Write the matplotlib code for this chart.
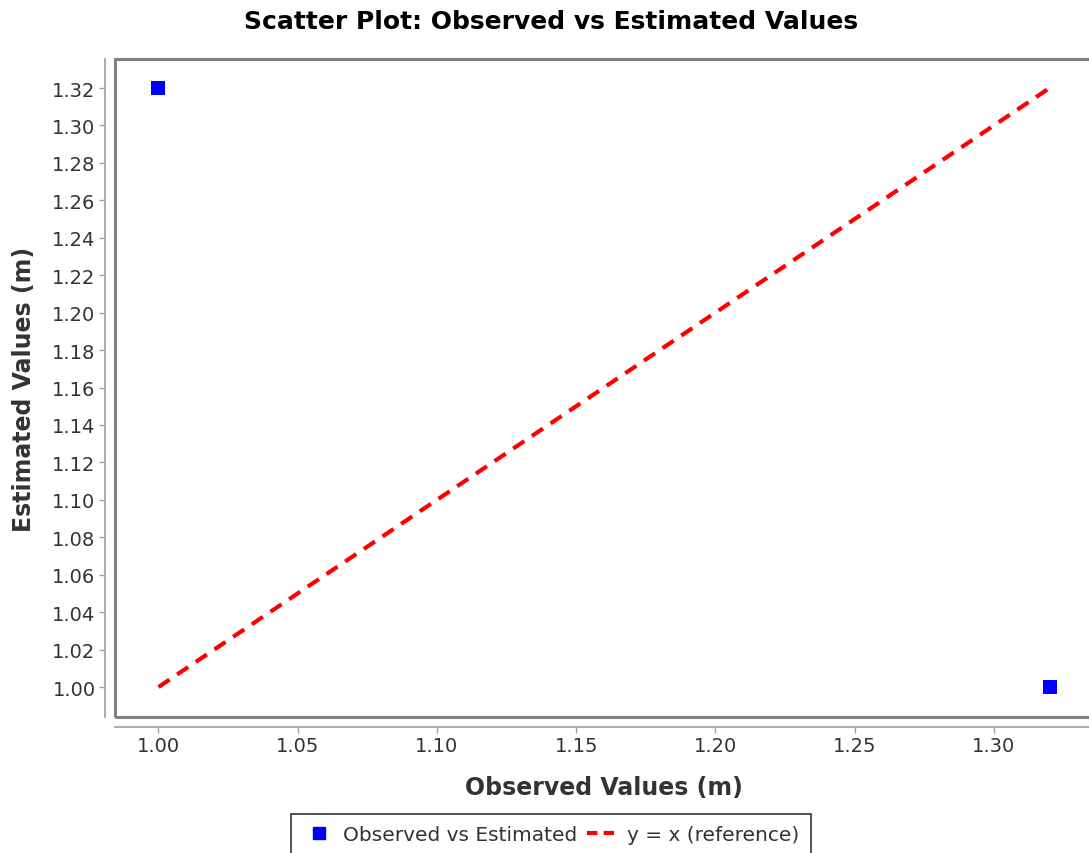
import matplotlib.pyplot as plt
from matplotlib.patches import Rectangle
from matplotlib.lines import Line2D

# data
observed = [1.00, 1.32]
estimated = [1.32, 1.00]
ref_x = [1.00, 1.32]
ref_y = [1.00, 1.32]
x_ticks = [1.00, 1.05, 1.10, 1.15, 1.20, 1.25, 1.30]
y_ticks = [1.00, 1.02, 1.04, 1.06, 1.08, 1.10, 1.12, 1.14, 1.16,
           1.18, 1.20, 1.22, 1.24, 1.26, 1.28, 1.30, 1.32]

plt.rcParams['font.family'] = ['DejaVu Sans']
W, H = 1089, 854
fig = plt.figure(figsize=(W / 100, H / 100), dpi=100)
ax = fig.add_axes([115 / W, 1 - 718 / H, 978 / W, 658 / H])

ax.plot(ref_x, ref_y, color='#ff0000', linestyle=(0, (3.2, 2.2)), linewidth=3, zorder=2)
ax.scatter(observed, estimated, marker='s', s=110, color='#0000ff', zorder=3, linewidths=0)

ax.set_xlim(0.9844, 1.3356)
ax.set_ylim(0.984, 1.3355)
ax.set_xticks(x_ticks)
ax.set_yticks(y_ticks)
ax.set_xticklabels(['{:.2f}'.format(v) for v in x_ticks])
ax.set_yticklabels(['{:.2f}'.format(v) for v in y_ticks])

# axis lines sit a few pixels outside the plot outline
for side in ['top', 'right']:
    ax.spines[side].set_visible(False)
for side in ['left', 'bottom']:
    ax.spines[side].set_position(('outward', 7))
    ax.spines[side].set_color('#a0a0a0')
    ax.spines[side].set_linewidth(1.2)
ax.tick_params(axis='both', direction='out', length=4, width=1, color='#a0a0a0',
               labelsize=14, labelcolor='#333333', pad=3)

# plot outline
ax.add_patch(Rectangle((0, 0), 1, 1, transform=ax.transAxes, fill=False,
                       edgecolor='#808080', linewidth=2.2, clip_on=False, zorder=5))

ax.set_xlabel('Observed Values (m)', fontsize=17, fontweight='bold', color='#333333', labelpad=14)
ax.set_ylabel('Estimated Values (m)', fontsize=17, fontweight='bold', color='#333333', labelpad=12)
fig.suptitle('Scatter Plot: Observed vs Estimated Values', x=551 / W, y=1 - 22 / H,
             va='center', fontsize=18, fontweight='bold')

handles = [Line2D([], [], marker='s', color='#0000ff', linestyle='none', markersize=9),
           Line2D([], [], color='#ff0000', linestyle=(0, (2.5, 1.5)), linewidth=3)]
leg = fig.legend(handles, ['Observed vs Estimated', 'y = x (reference)'],
                 loc='upper center', bbox_to_anchor=(551 / W, 1 - 815 / H), ncol=2,
                 fontsize=14.5, frameon=True, fancybox=False, handlelength=1.6,
                 handletextpad=0.4, columnspacing=0.5, borderpad=0.55, borderaxespad=0,
                 labelcolor='#333333')
leg.get_frame().set_edgecolor('black')
leg.get_frame().set_linewidth(1.2)

plt.savefig('out.png', dpi=100)
